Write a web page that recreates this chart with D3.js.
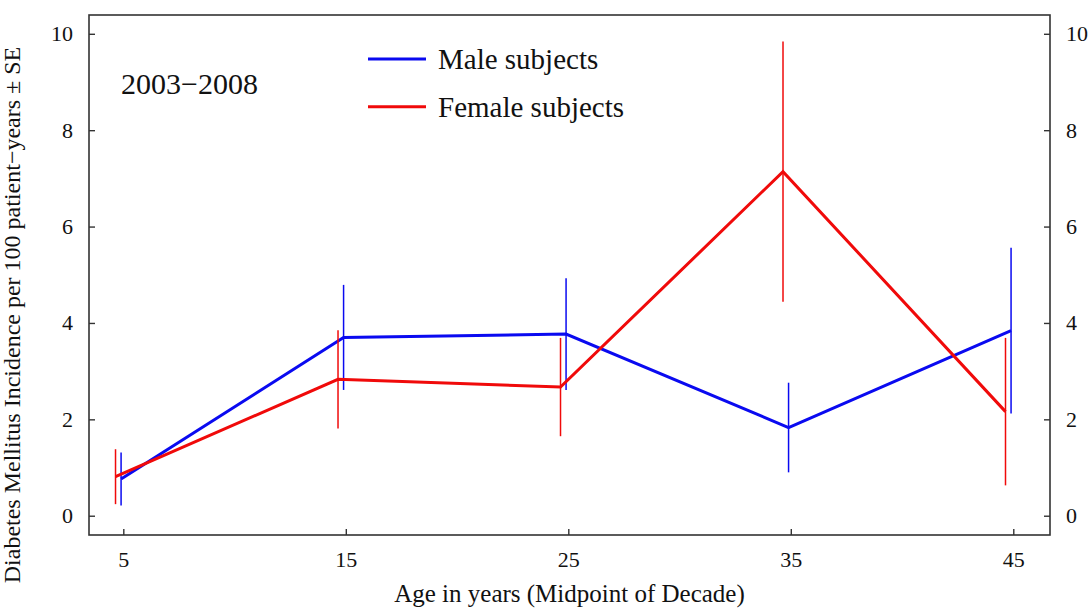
<!DOCTYPE html>
<html>
<head>
<meta charset="utf-8">
<script src="https://cdn.jsdelivr.net/npm/d3@7"></script>
<style>
  html, body { margin: 0; padding: 0; background: #fff; }
  svg { display: block; }
  text { font-family: "Liberation Serif", "Times New Roman", serif; fill: #111; }
</style>
</head>
<body>
<svg id="chart" width="1092" height="610"></svg>
<script>
// ---- data ----
const ages = [5, 15, 25, 35, 45];
const maleValues = [0.76, 3.70, 3.77, 1.83, 3.84];
const maleSE = [0.55, 1.09, 1.16, 0.93, 1.72];
const femaleValues = [0.81, 2.83, 2.67, 7.14, 2.16];
const femaleSE = [0.57, 1.02, 1.02, 2.70, 1.53];
const xTicks = [5, 15, 25, 35, 45];
const yTicks = [0, 2, 4, 6, 8, 10];
const seriesNames = ["Male subjects", "Female subjects"];
const periodLabel = "2003\u22122008";

// ---- layout ----
const svg = d3.select("#chart");
const L = 89, R = 1050, T = 15, B = 535;
const x = d3.scaleLinear().domain([3.458, 46.65]).range([L, R]);
const y = d3.scaleLinear().domain([-0.4, 10.39]).range([B, T]);
const frameColor = "#333";
const tickFont = "22px";

const series = [
  { name: seriesNames[0], values: maleValues, se: maleSE, color: "#0a0af0", offset: -0.1 },
  { name: seriesNames[1], values: femaleValues, se: femaleSE, color: "#f00a0a", offset: -0.35 }
];

// frame
svg.append("rect").attr("x", L).attr("y", T).attr("width", R - L).attr("height", B - T)
  .attr("fill", "none").attr("stroke", frameColor).attr("stroke-width", 1.6);

// axes
const axL = svg.append("g").attr("transform", `translate(${L},0)`)
  .call(d3.axisLeft(y).tickValues(yTicks).tickSizeInner(-6).tickSizeOuter(0).tickPadding(16));
const axR = svg.append("g").attr("transform", `translate(${R},0)`)
  .call(d3.axisRight(y).tickValues(yTicks).tickSizeInner(-6).tickSizeOuter(0).tickPadding(16));
const axB = svg.append("g").attr("transform", `translate(0,${B})`)
  .call(d3.axisBottom(x).tickValues(xTicks).tickSizeInner(-6).tickSizeOuter(0).tickPadding(14));
[axL, axR, axB].forEach(g => {
  g.attr("font-size", null).attr("font-family", null);
  g.select(".domain").remove();
  g.selectAll(".tick line").attr("stroke", frameColor).attr("stroke-width", 1.4);
  g.selectAll(".tick text").style("font-family", '"Liberation Serif", "Times New Roman", serif')
    .style("font-size", tickFont).attr("fill", "#111");
});
axB.selectAll(".tick text").attr("dy", "0.8em");

// series
const line = d3.line().x(d => x(d.a)).y(d => y(d.v));
series.forEach(s => {
  const pts = ages.map((a, i) => ({ a: a + s.offset, v: s.values[i], se: s.se[i] }));
  svg.append("path").datum(pts).attr("d", line)
    .attr("fill", "none").attr("stroke", s.color).attr("stroke-width", 3)
    .attr("stroke-linejoin", "miter");
  svg.append("g").selectAll("line").data(pts).join("line")
    .attr("x1", d => x(d.a)).attr("x2", d => x(d.a))
    .attr("y1", d => y(d.v - d.se)).attr("y2", d => y(d.v + d.se))
    .attr("stroke", s.color).attr("stroke-width", 1.5);
});

// legend
series.forEach((s, i) => {
  const ly = 59 + i * 47.7;
  svg.append("line").attr("x1", 368).attr("x2", 426).attr("y1", ly).attr("y2", ly)
    .attr("stroke", s.color).attr("stroke-width", 3);
  svg.append("text").attr("x", 438).attr("y", ly + 10).style("font-size", "29px").text(s.name);
});

// annotation
svg.append("text").attr("x", 121).attr("y", 94).style("font-size", "30px").text(periodLabel);

// axis titles
svg.append("text").attr("x", (L + R) / 2).attr("y", 602).attr("text-anchor", "middle")
  .style("font-size", "25px").text("Age in years (Midpoint of Decade)");
svg.append("text").attr("transform", "translate(20,315) rotate(-90)").attr("text-anchor", "middle")
  .style("font-size", "24px").text("Diabetes Mellitus Incidence per 100 patient\u2212years \u00b1 SE");
</script>
</body>
</html>
